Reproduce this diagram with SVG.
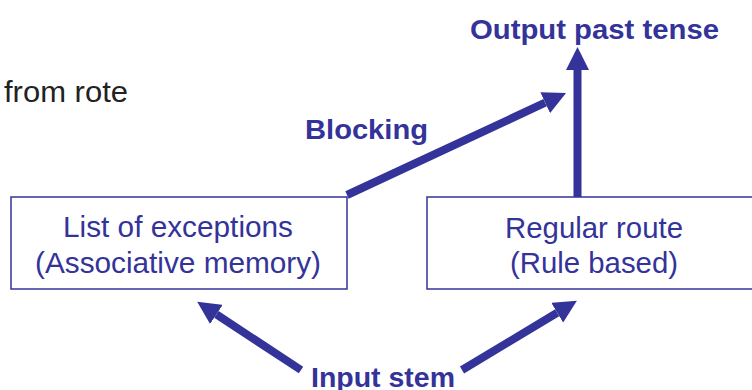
<svg xmlns="http://www.w3.org/2000/svg" width="752" height="390" viewBox="0 0 752 390">
  <style>
    .box { fill: #ffffff; stroke: #333399; stroke-width: 1.5; }
    .boxtext { font-family: "Liberation Sans", Arial, sans-serif; font-size: 29px; fill: #333399; text-anchor: middle; }
    .label { font-family: "Liberation Sans", Arial, sans-serif; font-weight: bold; font-size: 27px; fill: #333399; }
    .note { font-family: "Liberation Sans", Arial, sans-serif; font-size: 29px; fill: #222222; }
    .conn { stroke: #333399; stroke-width: 8; fill: none; marker-end: url(#head); }
  </style>
  <defs>
    <marker id="head" markerUnits="userSpaceOnUse" viewBox="0 0 23 23" markerWidth="23" markerHeight="23" refX="0" refY="11.5" orient="auto">
      <path d="M0,0 L23,11.5 L0,23 Z" fill="#333399"/>
    </marker>
  </defs>

  <rect width="752" height="390" fill="#ffffff"/>

  <text class="note" x="4" y="102" textLength="124" lengthAdjust="spacingAndGlyphs">from rote</text>

  <g id="connectors">
    <line class="conn" x1="347" y1="195" x2="545.2" y2="102.7"/>
    <line class="conn" x1="577.5" y1="197" x2="577.5" y2="70"/>
    <line class="conn" x1="301" y1="370" x2="216.4" y2="314.4"/>
    <line class="conn" x1="462" y1="370" x2="557.2" y2="312.7"/>
  </g>

  <g id="exceptions">
    <rect class="box" x="11" y="197" width="336" height="92"/>
    <text class="boxtext" x="178" y="237" textLength="230" lengthAdjust="spacingAndGlyphs">List of exceptions</text>
    <text class="boxtext" x="178" y="273" textLength="286" lengthAdjust="spacingAndGlyphs">(Associative memory)</text>
  </g>

  <g id="regular">
    <rect class="box" x="427" y="197" width="340" height="92"/>
    <text class="boxtext" x="594" y="238" textLength="178" lengthAdjust="spacingAndGlyphs">Regular route</text>
    <text class="boxtext" x="594" y="273" textLength="168" lengthAdjust="spacingAndGlyphs">(Rule based)</text>
  </g>

  <g id="output">
    <text class="label" x="470" y="39" textLength="249" lengthAdjust="spacingAndGlyphs">Output past tense</text>
  </g>

  <g id="blocking">
    <text class="label" x="305" y="139" textLength="123" lengthAdjust="spacingAndGlyphs">Blocking</text>
  </g>

  <g id="input">
    <text class="label" x="311" y="387" textLength="144" lengthAdjust="spacingAndGlyphs">Input stem</text>
  </g>
</svg>
